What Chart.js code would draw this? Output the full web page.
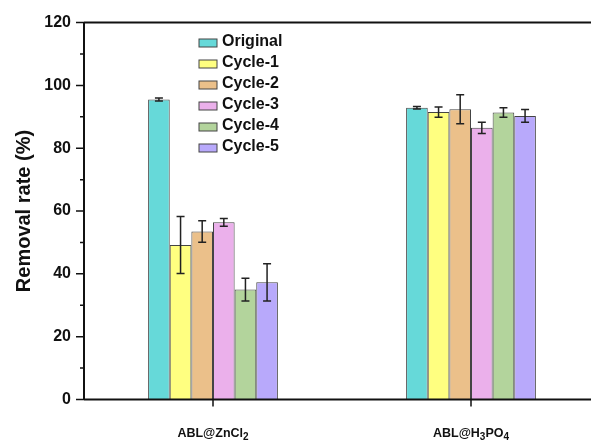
<!DOCTYPE html>
<html>
<head>
<meta charset="utf-8">
<script src="https://cdn.jsdelivr.net/npm/chart.js@4"></script>
<style>
  html, body { margin: 0; padding: 0; background: #fff; overflow: hidden; }
  #wrap { width: 610px; height: 441px; }
</style>
</head>
<body>
<div id="wrap"><canvas id="chartCanvas" width="610" height="441"></canvas></div>
<script>
// ---------- Data ----------
// digits after "_" are drawn as subscripts
const categories = ["ABL@ZnCl_2", "ABL@H_3PO_4"];
const seriesNames = ["Original", "Cycle-1", "Cycle-2", "Cycle-3", "Cycle-4", "Cycle-5"];
const seriesColors = ["#66d9d9", "#ffff80", "#ebc08a", "#ebb0eb", "#b3d49c", "#b8a9fb"];

const original = [95.5, 92.9];
const cycle1 = [49.2, 91.5];
const cycle2 = [53.5, 92.4];
const cycle3 = [56.4, 86.5];
const cycle4 = [35.0, 91.4];
const cycle5 = [37.3, 90.3];

const originalErr = [0.5, 0.4];
const cycle1Err = [9.1, 1.6];
const cycle2Err = [3.4, 4.6];
const cycle3Err = [1.2, 1.8];
const cycle4Err = [3.6, 1.5];
const cycle5Err = [5.9, 2.0];

const yTicks = [0, 20, 40, 60, 80, 100, 120];

const values = [original, cycle1, cycle2, cycle3, cycle4, cycle5];
const errors = [originalErr, cycle1Err, cycle2Err, cycle3Err, cycle4Err, cycle5Err];

const FONT = "'Liberation Sans', Arial, sans-serif";

// split "ABL@H_3PO_4" into normal / subscript pieces
function splitSub(label) {
    const parts = [];
    const re = /_(\d+)|[^_]+/g;
    let m;
    while ((m = re.exec(label)) !== null) {
        if (m[1]) parts.push({ text: m[1], sub: true });
        else parts.push({ text: m[0], sub: false });
    }
    return parts;
}

// ---------- Error bars + frame + legend ----------
const extrasPlugin = {
    id: "extras",
    afterDatasetsDraw(chart) {
        const ctx = chart.ctx;
        const y = chart.scales.y;
        ctx.save();
        ctx.strokeStyle = "#222";
        ctx.lineWidth = 1.5;
        chart.data.datasets.forEach((ds, i) => {
            const meta = chart.getDatasetMeta(i);
            meta.data.forEach((bar, j) => {
                const v = ds.data[j];
                const e = ds.errors[j];
                const yt = y.getPixelForValue(v + e);
                const yb = y.getPixelForValue(v - e);
                const cap = 4;
                ctx.beginPath();
                ctx.moveTo(bar.x, yt); ctx.lineTo(bar.x, yb);
                ctx.moveTo(bar.x - cap, yt); ctx.lineTo(bar.x + cap, yt);
                ctx.moveTo(bar.x - cap, yb); ctx.lineTo(bar.x + cap, yb);
                ctx.stroke();
            });
        });
        ctx.restore();
    },
    afterDraw(chart) {
        const ctx = chart.ctx;
        const area = chart.chartArea;
        const y = chart.scales.y;
        const x = chart.scales.x;
        ctx.save();
        ctx.strokeStyle = "#111";
        ctx.lineWidth = 2;
        // frame: left, top, bottom
        ctx.beginPath();
        ctx.moveTo(area.left, area.top); ctx.lineTo(area.right, area.top);
        ctx.moveTo(area.left, area.top); ctx.lineTo(area.left, area.bottom);
        ctx.moveTo(area.left, area.bottom); ctx.lineTo(area.right, area.bottom);
        ctx.stroke();
        // y ticks (major and minor)
        ctx.lineWidth = 1.5;
        ctx.beginPath();
        for (let v = 0; v <= 120; v += 10) {
            const py = y.getPixelForValue(v);
            const len = (v % 20 === 0) ? 8 : 4;
            ctx.moveTo(area.left - len, py); ctx.lineTo(area.left, py);
        }
        // x ticks
        categories.forEach((c, i) => {
            const px = x.getPixelForValue(i);
            ctx.moveTo(px, area.bottom); ctx.lineTo(px, area.bottom + 7);
        });
        ctx.stroke();

        // x category labels with subscripts
        ctx.fillStyle = "#111";
        ctx.textBaseline = "alphabetic";
        ctx.textAlign = "left";
        const mainFont = "bold 12.5px " + FONT;
        const subFont = "bold 10px " + FONT;
        categories.forEach((c, i) => {
            const parts = splitSub(c);
            let w = 0;
            parts.forEach(p => {
                ctx.font = p.sub ? subFont : mainFont;
                w += ctx.measureText(p.text).width;
            });
            let px = x.getPixelForValue(i) - w / 2;
            const base = 436.5;
            parts.forEach(p => {
                ctx.font = p.sub ? subFont : mainFont;
                ctx.fillText(p.text, px, p.sub ? base + 3.5 : base);
                px += ctx.measureText(p.text).width;
            });
        });

        // legend
        ctx.font = "bold 16px " + FONT;
        ctx.textBaseline = "middle";
        chart.data.datasets.forEach((ds, i) => {
            const ly = 42 + i * 21;
            ctx.fillStyle = ds.backgroundColor;
            ctx.fillRect(199, ly - 3, 18, 8);
            ctx.strokeStyle = "#444";
            ctx.lineWidth = 1;
            ctx.strokeRect(199, ly - 3, 18, 8);
            ctx.fillStyle = "#111";
            ctx.fillText(ds.label, 222, ly);
        });
        ctx.restore();
    }
};

// ---------- Chart ----------
const ctx = document.getElementById("chartCanvas").getContext("2d");
new Chart(ctx, {
    type: "bar",
    data: {
        labels: categories,
        datasets: seriesNames.map((name, i) => ({
            label: name,
            data: values[i],
            errors: errors[i],
            backgroundColor: seriesColors[i],
            borderColor: "#444",
            borderWidth: 1,
            categoryPercentage: 0.503,
            barPercentage: 1.0
        }))
    },
    options: {
        responsive: false,
        animation: false,
        layout: { padding: { top: 22, right: 10, left: 0, bottom: 0 } },
        plugins: {
            legend: { display: false },
            tooltip: { enabled: false }
        },
        scales: {
            x: {
                grid: { display: false, drawTicks: false },
                border: { display: false },
                ticks: { display: false },
                afterFit(scale) { scale.height = 41.5; }
            },
            y: {
                min: 0,
                max: 120,
                afterBuildTicks(scale) { scale.ticks = yTicks.map(v => ({ value: v })); },
                grid: { display: false, drawTicks: false },
                border: { display: false },
                ticks: {
                    color: "#111",
                    font: { family: FONT, size: 16, weight: "bold" },
                    padding: 13
                },
                title: {
                    display: true,
                    text: "Removal rate (%)",
                    color: "#111",
                    font: { family: FONT, size: 20, weight: "bold" },
                    padding: { top: 12, bottom: 0 }
                },
                afterFit(scale) { scale.width = 84; }
            }
        }
    },
    plugins: [extrasPlugin]
});
</script>
</body>
</html>
